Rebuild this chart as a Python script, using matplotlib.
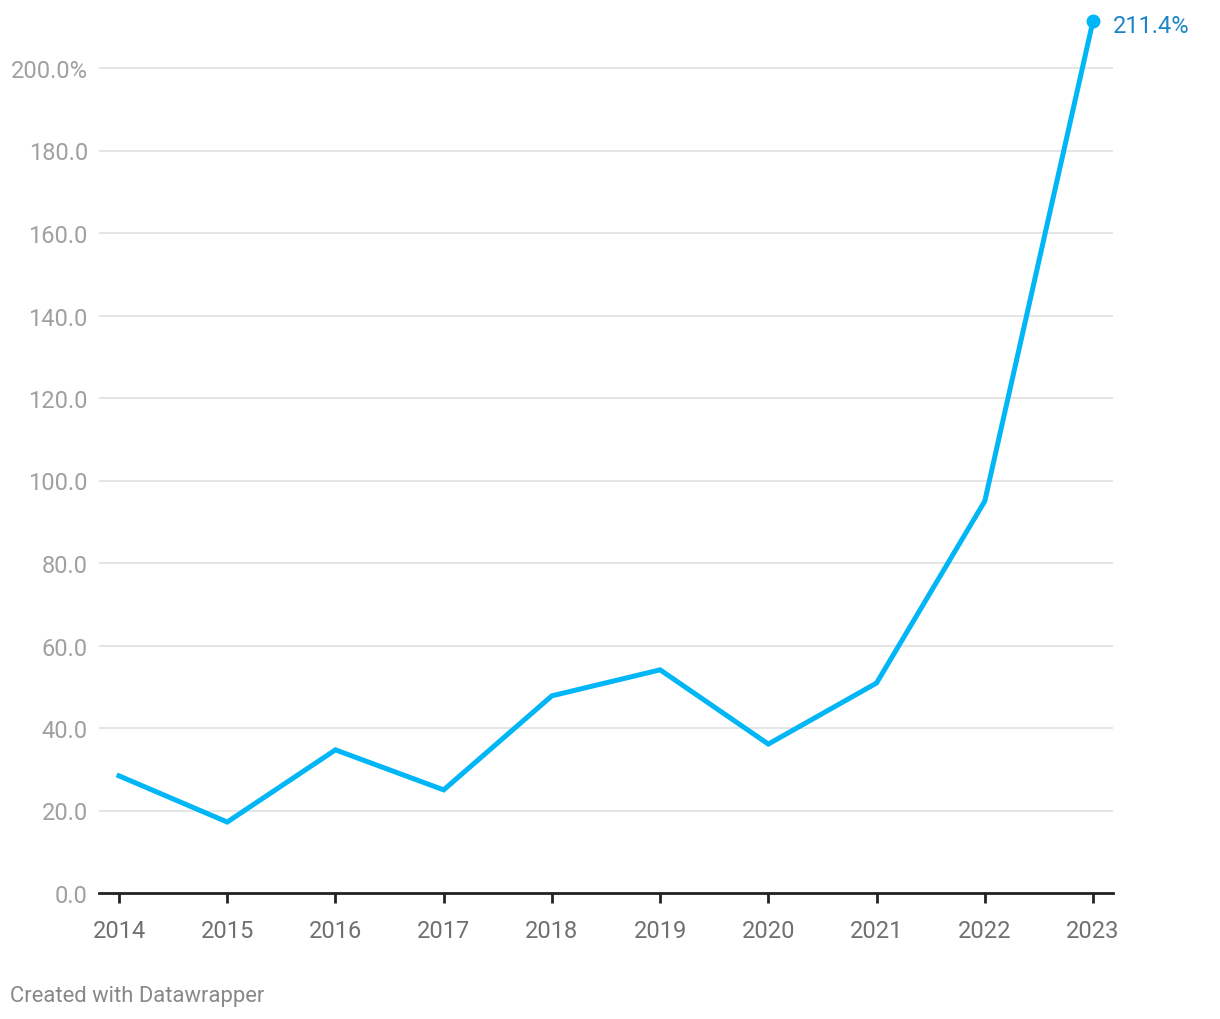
import matplotlib
matplotlib.use("Agg")
import matplotlib.pyplot as plt

years = [2014, 2015, 2016, 2017, 2018, 2019, 2020, 2021, 2022, 2023]
values = [28.4, 17.2, 34.7, 25.0, 47.8, 54.1, 36.1, 50.9, 95.0, 211.4]
yticks = [0, 20, 40, 60, 80, 100, 120, 140, 160, 180, 200]
ytick_labels = ["0.0", "20.0", "40.0", "60.0", "80.0", "100.0", "120.0", "140.0", "160.0", "180.0", "200.0%"]

plt.rcParams['font.family'] = ['Roboto', 'DejaVu Sans']

fig = plt.figure(figsize=(12.2, 10.2), dpi=100)
ax = fig.add_axes([99/1220, 1 - 894/1020, (1113 - 99)/1220, (894 - 10)/1020])

line_color = "#00b6f7"
ax.plot(years, values, color=line_color, linewidth=3.6, solid_joinstyle='miter', clip_on=False, zorder=3)
ax.plot([years[-1]], [values[-1]], 'o', color=line_color, markersize=9, clip_on=False, zorder=4)
ax.annotate(f"{values[-1]:.1f}%", xy=(years[-1], values[-1]), xytext=(14, -3),
            textcoords='offset points', ha='left', va='center',
            fontsize=17, color="#1b86c8", annotation_clip=False)

ax.set_xlim(2014 - 20/108.22, 2023 + 20/108.22)
ax.set_ylim(0, (894 - 10)/4.125)

ax.set_yticks(yticks)
ax.set_yticklabels(ytick_labels)
ax.set_xticks(years)
ax.set_xticklabels([str(y) for y in years])

ax.grid(axis='y', color="#e3e3e3", linewidth=1.3)
ax.set_axisbelow(True)
for s in ['top', 'right', 'left']:
    ax.spines[s].set_visible(False)
ax.spines['bottom'].set_color('#222222')
ax.spines['bottom'].set_linewidth(2)
ax.spines['bottom'].set_zorder(5)

ax.tick_params(axis='y', length=0, pad=8, labelsize=17, labelcolor="#a0a0a0")
ax.tick_params(axis='x', length=7, width=2, color='#222222', pad=12, labelsize=17, labelcolor="#707070")

fig.text(10/1220, 1 - 997/1020, "Created with Datawrapper", fontsize=15.8, color="#888888",
         ha='left', va='center')

fig.savefig("out.png", dpi=100, facecolor='white')
